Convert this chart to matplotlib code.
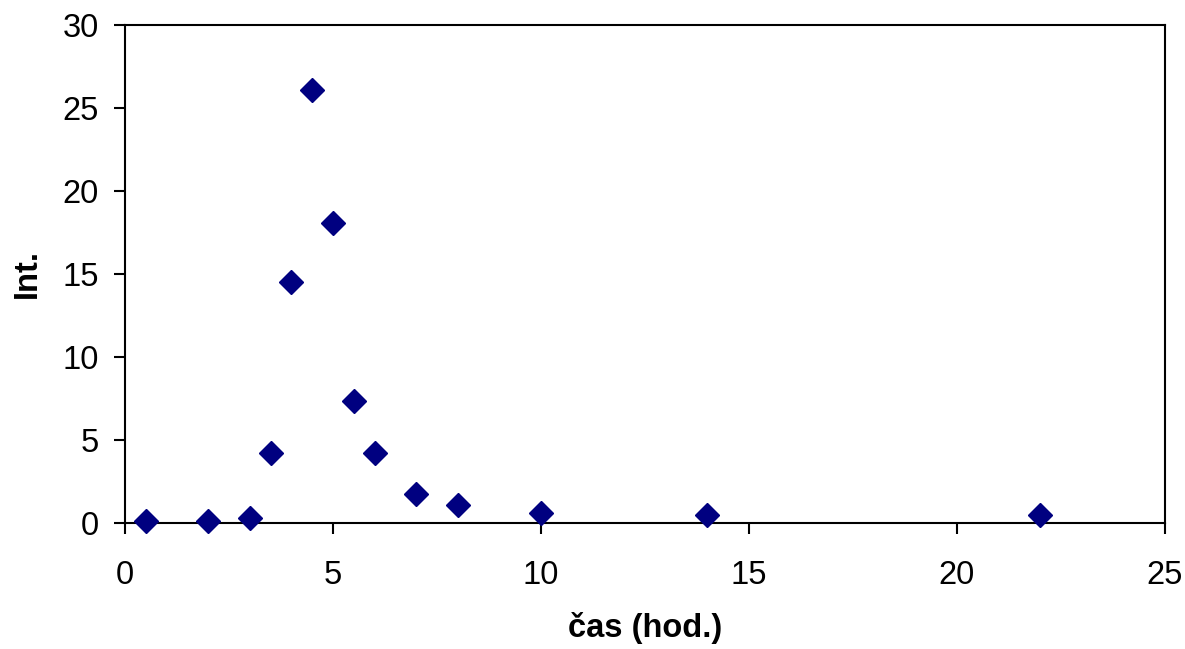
import matplotlib
matplotlib.use("Agg")
from matplotlib import pyplot as plt

# time (h) and intensity
cas_hod = [0.5, 2, 3, 3.5, 4, 4.5, 5, 5.5, 6, 7, 8, 10, 14, 22]
intenzita = [0.1, 0.15, 0.3, 4.2, 14.5, 26.1, 18.05, 7.35, 4.2, 1.75, 1.1, 0.6, 0.48, 0.48]

x_ticks = [0, 5, 10, 15, 20, 25]
y_ticks = [0, 5, 10, 15, 20, 25, 30]

plt.rcParams["font.family"] = ["Liberation Sans", "DejaVu Sans"]

fig = plt.figure(figsize=(11.85, 6.49), dpi=100)
ax = fig.add_axes([125 / 1185, 1 - 523 / 649, 1040 / 1185, 498 / 649])

ax.plot(cas_hod, intenzita, linestyle="none", marker="D", markersize=12.5,
        color="#000080", clip_on=False, zorder=3)

ax.set_xlim(0, 25)
ax.set_ylim(0, 30)
ax.set_xticks(x_ticks)
ax.set_yticks(y_ticks)
for s in ax.spines.values():
    s.set_linewidth(1.5)
ax.tick_params(axis="both", direction="out", length=8, width=1.5, labelsize=23.5)
ax.tick_params(axis="x", pad=19)
ax.tick_params(axis="y", pad=11)

ax.set_xlabel("čas (hod.)", fontsize=23.5, fontweight="bold", labelpad=15)
ax.set_ylabel("Int.", fontsize=23.5, fontweight="bold", labelpad=14)

fig.savefig("out.png", dpi=100)
